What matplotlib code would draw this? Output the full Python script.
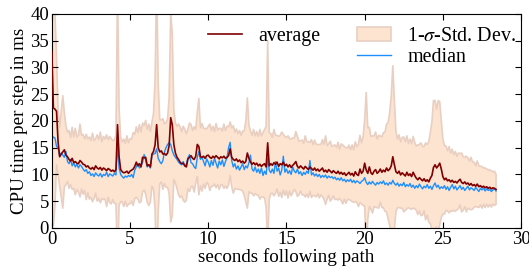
import numpy as np
import matplotlib
matplotlib.use('Agg')
import matplotlib.pyplot as plt
from matplotlib.lines import Line2D
from matplotlib.patches import Patch

# -------------------------------------------------------------
# DATA (one value every 0.1 s)
# -------------------------------------------------------------

avg = [
    33.0, 22.4, 22.2, 21.8, 16.0, 13.3, 13.8, 14.2, 14.6, 13.6,
    13.3, 12.8, 12.5, 13.0, 12.2, 12.4, 12.1, 12.0, 12.6, 12.3,
    11.9, 11.8, 11.4, 11.6, 11.2, 11.0, 11.3, 10.9, 11.6, 11.2,
    11.0, 11.3, 10.8, 11.2, 11.0, 10.7, 11.1, 10.9, 10.6, 10.8,
    10.5, 10.9, 19.3, 13.3, 10.9, 10.5, 10.3, 10.4, 10.6, 10.2,
    10.6, 10.8, 11.0, 11.5, 12.3, 11.6, 12.0, 11.4, 13.2, 13.1,
    13.2, 11.6, 11.8, 11.4, 13.8, 14.3, 15.5, 19.3, 15.0, 14.2,
    14.4, 13.8, 13.9, 13.6, 14.0, 15.4, 20.6, 19.3, 15.6, 14.0,
    13.2, 12.8, 12.3, 12.0, 12.1, 11.6, 11.4, 12.9, 13.2, 13.5,
    13.0, 12.8, 13.4, 15.6, 15.2, 13.3, 13.2, 13.4, 13.0, 13.5,
    13.6, 13.2, 13.0, 13.4, 13.1, 13.5, 13.2, 12.9, 13.3, 13.1,
    13.4, 13.0, 13.2, 13.5, 14.8, 13.2, 12.8, 12.6, 12.9, 12.4,
    12.7, 12.2, 12.5, 12.1, 12.4, 14.0, 13.0, 12.3, 11.9, 12.2,
    11.8, 12.1, 11.6, 11.9, 11.5, 11.8, 12.0, 11.4, 15.9, 11.6,
    12.0, 11.7, 12.2, 11.9, 12.3, 11.5, 12.0, 11.8, 12.3, 11.6,
    11.9, 11.4, 11.8, 11.3, 11.7, 12.0, 12.4, 11.5, 11.2, 11.6,
    11.3, 11.0, 11.5, 11.2, 10.9, 11.4, 11.1, 10.8, 11.2, 10.7,
    11.0, 10.6, 10.9, 11.2, 10.5, 10.8, 10.4, 10.9, 10.6, 10.3,
    10.7, 10.4, 10.2, 10.6, 10.1, 10.4, 10.0, 10.3, 9.8, 10.1,
    10.4, 9.9, 10.2, 9.7, 10.5, 10.0, 9.8, 11.0, 10.2, 10.6,
    12.1, 10.8, 10.2, 11.4, 10.3, 10.0, 10.6, 10.9, 10.2, 10.5,
    11.0, 10.4, 10.8, 10.5, 11.2, 10.7, 11.0, 11.6, 13.3, 11.8,
    10.5, 10.2, 10.6, 9.9, 10.3, 10.0, 9.7, 10.4, 9.8, 10.1,
    9.6, 10.4, 9.8, 9.3, 9.0, 9.4, 9.1, 8.8, 9.2, 8.7,
    9.0, 8.6, 9.3, 9.8, 11.3, 11.8, 11.2, 11.6, 12.1, 11.0,
    9.6, 9.0, 9.3, 8.8, 9.0, 8.6, 8.9, 8.5, 8.7, 8.4,
    8.8, 9.1, 8.5, 8.3, 8.6, 8.2, 8.4, 8.0, 8.3, 7.9,
    8.1, 7.8, 8.2, 7.7, 7.9, 7.6, 7.8, 7.5, 7.7, 7.4,
    7.6, 7.3, 7.5, 7.4, 7.2,
]

median = [
    16.5, 17.0, 16.8, 15.2, 15.0, 13.4, 14.0, 13.6, 13.2, 14.3,
    12.4, 12.0, 12.8, 11.6, 12.2, 11.4, 11.9, 11.2, 11.8, 11.5,
    11.0, 10.6, 10.9, 10.2, 10.5, 9.8, 10.1, 9.6, 10.3, 9.9,
    9.7, 10.2, 9.5, 10.0, 9.8, 10.4, 9.6, 10.1, 9.9, 9.7,
    10.2, 9.9, 15.8, 11.2, 10.0, 9.6, 9.3, 9.7, 9.5, 9.8,
    9.6, 10.0, 9.4, 10.8, 11.4, 12.0, 11.2, 11.6, 12.2, 13.7,
    12.6, 11.4, 11.8, 11.2, 13.6, 13.8, 13.9, 14.8, 13.0, 12.4,
    12.0, 12.6, 14.2, 15.0, 15.6, 15.9, 15.6, 14.4, 13.6, 13.2,
    12.8, 12.3, 12.0, 11.8, 12.4, 11.6, 11.9, 13.1, 13.7, 12.2,
    12.0, 11.4, 11.1, 13.2, 14.3, 12.8, 13.2, 12.4, 11.6, 12.9,
    12.3, 11.4, 12.6, 11.7, 13.0, 12.1, 11.2, 12.5, 11.8, 12.7,
    11.5, 12.4, 13.1, 15.0, 16.0, 12.6, 11.4, 12.0, 11.0, 11.6,
    10.8, 11.4, 12.0, 10.9, 11.6, 11.2, 12.2, 13.6, 11.0, 10.6,
    11.4, 10.4, 11.0, 10.2, 11.2, 9.8, 10.6, 10.0, 13.0, 10.8,
    10.3, 11.0, 10.2, 12.4, 10.6, 11.2, 9.9, 10.8, 13.4, 10.4,
    11.0, 10.2, 10.7, 10.0, 11.4, 10.6, 10.3, 11.0, 10.1, 10.5,
    9.8, 10.4, 10.0, 10.6, 10.2, 12.6, 9.9, 10.3, 9.7, 10.1,
    9.6, 10.0, 9.4, 9.8, 9.5, 9.9, 9.3, 9.7, 9.4, 9.6,
    9.2, 9.5, 9.0, 9.3, 8.9, 9.4, 8.8, 9.1, 8.6, 9.0,
    8.7, 9.1, 8.5, 8.9, 8.4, 8.8, 8.6, 8.3, 8.7, 8.9,
    9.4, 8.5, 8.1, 8.6, 8.2, 8.7, 8.3, 8.0, 8.5, 8.2,
    8.6, 8.3, 8.8, 8.1, 8.4, 8.0, 8.5, 8.2, 8.9, 8.3,
    8.0, 8.4, 7.8, 8.2, 7.9, 8.5, 7.7, 8.1, 7.8, 8.3,
    7.6, 8.0, 7.4, 7.9, 7.5, 8.2, 7.7, 7.3, 7.8, 7.5,
    8.1, 7.4, 7.8, 7.2, 7.9, 8.4, 7.6, 8.0, 7.3, 7.7,
    7.4, 7.9, 7.2, 7.7, 7.0, 7.6, 8.1, 7.3, 7.8, 7.1,
    7.5, 7.9, 7.2, 7.6, 7.0, 7.4, 7.8, 7.1, 7.5, 7.3,
    7.0, 7.6, 7.2, 6.8, 7.4, 7.1, 7.5, 6.9, 7.3, 7.0,
    7.2, 6.8, 7.1, 7.3, 6.9,
]

std = [
    30.0, 22.0, 18.0, 10.0, 6.0, 5.5, 8.0, 10.5, 7.0, 5.5,
    4.6, 5.4, 4.4, 5.8, 4.8, 6.2, 4.9, 5.3, 6.8, 5.0,
    5.6, 4.8, 6.1, 5.0, 5.8, 5.3, 6.4, 5.4, 5.1, 6.2,
    5.5, 6.6, 5.3, 5.9, 5.6, 6.7, 5.4, 6.2, 6.1, 5.5,
    5.9, 6.4, 26.0, 9.0, 6.0, 5.6, 6.3, 5.4, 6.6, 5.7,
    6.1, 5.8, 6.8, 6.0, 6.6, 6.2, 7.3, 6.5, 6.4, 6.0,
    6.9, 6.8, 7.6, 6.6, 6.0, 7.0, 12.0, 28.0, 12.0, 6.0,
    5.8, 6.6, 5.6, 6.0, 6.4, 9.0, 19.5, 17.0, 6.5, 5.6,
    5.8, 6.6, 6.6, 6.0, 6.9, 6.8, 6.2, 5.6, 6.4, 5.8,
    5.2, 6.1, 5.0, 6.0, 9.0, 5.4, 6.3, 5.2, 5.6, 5.0,
    5.4, 6.2, 5.2, 5.6, 4.9, 6.0, 5.1, 5.7, 5.3, 5.0,
    6.0, 5.2, 5.8, 5.4, 5.0, 5.5, 6.3, 5.3, 5.6, 5.2,
    5.5, 5.1, 5.6, 6.0, 7.5, 10.3, 6.2, 5.8, 5.4, 6.2,
    5.4, 5.9, 5.5, 6.5, 5.7, 6.0, 6.4, 7.5, 19.0, 6.2,
    5.6, 5.2, 6.2, 5.4, 5.0, 5.6, 5.3, 6.1, 5.2, 5.5,
    5.0, 5.8, 4.9, 5.3, 5.1, 4.8, 5.6, 5.6, 5.0, 4.7,
    5.1, 4.8, 5.7, 4.9, 5.2, 4.6, 5.4, 4.7, 5.2, 4.9,
    4.6, 5.0, 4.7, 5.3, 5.1, 6.4, 5.0, 4.8, 5.6, 4.9,
    4.7, 5.1, 4.8, 5.4, 4.6, 5.3, 5.5, 4.9, 5.2, 4.8,
    5.1, 4.7, 5.3, 4.9, 5.6, 5.2, 5.8, 6.3, 5.7, 6.4,
    8.0, 14.5, 8.5, 7.4, 6.8, 7.2, 6.6, 7.0, 6.4, 6.8,
    6.2, 6.6, 7.0, 7.4, 8.2, 9.0, 10.5, 13.0, 17.0, 12.0,
    7.5, 6.4, 6.8, 6.2, 6.6, 7.0, 6.4, 6.8, 6.0, 6.5,
    6.1, 6.7, 6.2, 6.0, 6.5, 6.2, 6.8, 6.4, 6.0, 7.2,
    6.6, 7.5, 8.5, 10.0, 12.5, 12.0, 11.0, 12.2, 11.5, 9.0,
    7.0, 6.4, 6.0, 5.6, 6.2, 5.4, 5.8, 5.2, 5.6, 5.0,
    5.2, 4.8, 5.5, 5.0, 4.6, 5.2, 4.7, 4.5, 4.9, 4.4,
    4.2, 3.8, 4.3, 3.9, 3.6, 3.9, 3.4, 3.7, 3.3, 3.5,
    3.2, 3.4, 3.0, 3.2, 2.8,
]

x_ticks = [0, 5, 10, 15, 20, 25, 30]
y_ticks = [0, 5, 10, 15, 20, 25, 30, 35, 40]

avg = np.array(avg)
median = np.array(median)
std = np.array(std)
t = np.round(np.arange(len(avg)) * 0.1, 1)

# -------------------------------------------------------------
# PLOT
# -------------------------------------------------------------

plt.rcParams['font.family'] = ['Liberation Serif', 'DejaVu Serif']
plt.rcParams['mathtext.fontset'] = 'stix'

fig = plt.figure(figsize=(5.29, 2.72), dpi=100)
ax = fig.add_axes([0.098, 0.162, 0.887, 0.787])

ax.fill_between(t, avg - std, avg + std, facecolor='#fde4d1',
                edgecolor='#e8cfc1', linewidth=1.2, zorder=1)
ax.plot(t, median, color='#1e8fff', linewidth=1.0, zorder=2)
ax.plot(t, avg, color='#7f0000', linewidth=1.2, zorder=3)

ax.set_xlim(0, 30)
ax.set_ylim(0, 40)
ax.set_xticks(x_ticks)
ax.set_yticks(y_ticks)
ax.tick_params(direction='in', top=True, right=True, length=4,
               labelsize=13.5, pad=2)
ax.set_xlabel('seconds following path', fontsize=13.7, labelpad=0)
ax.set_ylabel('CPU time per step in ms', fontsize=13.7, labelpad=2)

# legend: average alone in first column, band + median in second
handles = [
    Line2D([], [], color='#7f0000', linewidth=1.2),
    Line2D([], [], color='none'),
    Patch(facecolor='#fde4d1', edgecolor='#e8cfc1', linewidth=1.2),
    Line2D([], [], color='#1e8fff', linewidth=1.0),
]
labels = ['average', ' ', r'1-$\sigma$-Std. Dev.', 'median']
ax.legend(handles, labels, ncol=2, frameon=False, fontsize=14.4,
          loc='upper left', bbox_to_anchor=(0.333, 0.938),
          handlelength=1.7, handletextpad=0.8, columnspacing=1.85,
          labelspacing=0.1, borderpad=0.0, borderaxespad=0.0)

fig.savefig('out.png', dpi=100)
